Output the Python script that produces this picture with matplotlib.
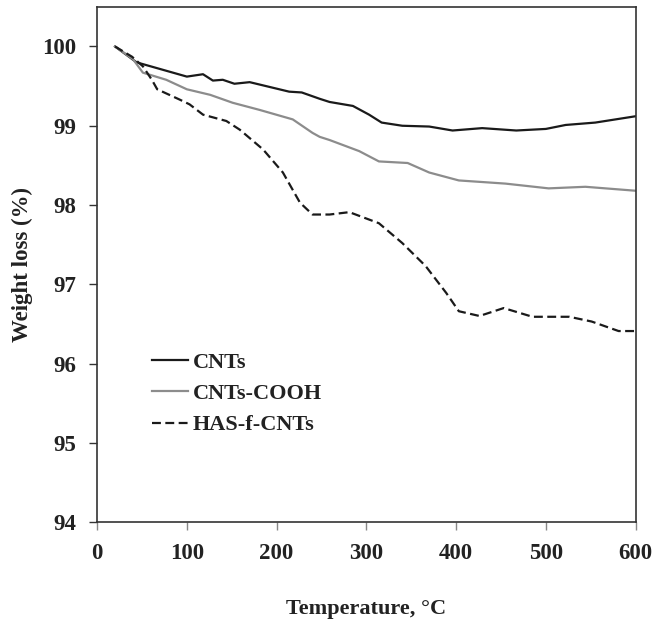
import matplotlib
matplotlib.use("Agg")
import matplotlib.pyplot as plt

plt.rcParams['font.family'] = ['Liberation Serif', 'DejaVu Serif']
plt.rcParams['font.weight'] = 'bold'

cnt_x = [20, 44, 100, 118, 129, 140, 153, 170, 214, 228, 248, 259, 285, 303, 317, 340, 370, 396, 429, 467, 500, 522, 555, 600]
cnt_y = [100.0, 99.8, 99.62, 99.65, 99.57, 99.58, 99.53, 99.55, 99.43, 99.42, 99.34, 99.30, 99.25, 99.14, 99.04, 99.0, 98.99, 98.94, 98.97, 98.94, 98.96, 99.01, 99.04, 99.12]

cooh_x = [20, 40, 51, 77, 100, 126, 151, 181, 218, 240, 248, 259, 292, 314, 346, 370, 403, 455, 503, 544, 600]
cooh_y = [100.0, 99.84, 99.67, 99.58, 99.46, 99.39, 99.29, 99.2, 99.08, 98.91, 98.86, 98.82, 98.68, 98.55, 98.53, 98.41, 98.31, 98.27, 98.21, 98.23, 98.18]

has_x = [20, 39, 51, 61, 67, 92, 103, 118, 144, 159, 185, 207, 226, 240, 259, 281, 314, 340, 366, 389, 403, 426, 453, 485, 526, 551, 581, 600]
has_y = [100.0, 99.87, 99.75, 99.58, 99.46, 99.33, 99.27, 99.14, 99.06, 98.95, 98.70, 98.41, 98.03, 97.88, 97.88, 97.91, 97.77, 97.52, 97.23, 96.89, 96.66, 96.60, 96.70, 96.59, 96.59, 96.53, 96.41, 96.41]

labels = ["CNTs", "CNTs-COOH", "HAS-f-CNTs"]
xticks = [0, 100, 200, 300, 400, 500, 600]
yticks = [94, 95, 96, 97, 98, 99, 100]

fig = plt.figure(figsize=(6.56, 6.23), dpi=100)
ax = fig.add_axes([0.148, 0.162, 0.821, 0.827])

ax.plot(cnt_x, cnt_y, color='#1a1a1a', lw=1.6, label=labels[0])
ax.plot(cooh_x, cooh_y, color='#8c8c8c', lw=1.6, label=labels[1])
ax.plot(has_x, has_y, color='#1a1a1a', lw=1.6, ls='--', dashes=(4, 2), label=labels[2])

ax.set_xlim(0, 600)
ax.set_ylim(94, 100.5)
ax.set_xticks(xticks)
ax.set_yticks(yticks)
ax.tick_params(axis='both', labelsize=16.5, direction='out', length=6, width=1, colors='#333333', labelcolor='#222222')
ax.tick_params(axis='x', pad=9, color='#888888')
ax.tick_params(axis='y', pad=9)
for s in ax.spines.values():
    s.set_color('#333333')
    s.set_linewidth(1.2)

ax.set_xlabel("Temperature, °C", fontsize=16, fontweight='bold', color='#222222')
ax.xaxis.set_label_coords(0.5, -0.150)
ax.set_ylabel("Weight loss (%)", fontsize=16.5, fontweight='bold', color='#222222')
ax.yaxis.set_label_coords(-0.119, 0.5)

leg = ax.legend(loc='upper left', bbox_to_anchor=(0.102, 0.330), frameon=False, fontsize=16,
                handlelength=1.62, handletextpad=0.2, labelspacing=0.49, borderaxespad=0, borderpad=0)
for t in leg.get_texts():
    t.set_color('#222222')

fig.savefig("out.png", dpi=100)
